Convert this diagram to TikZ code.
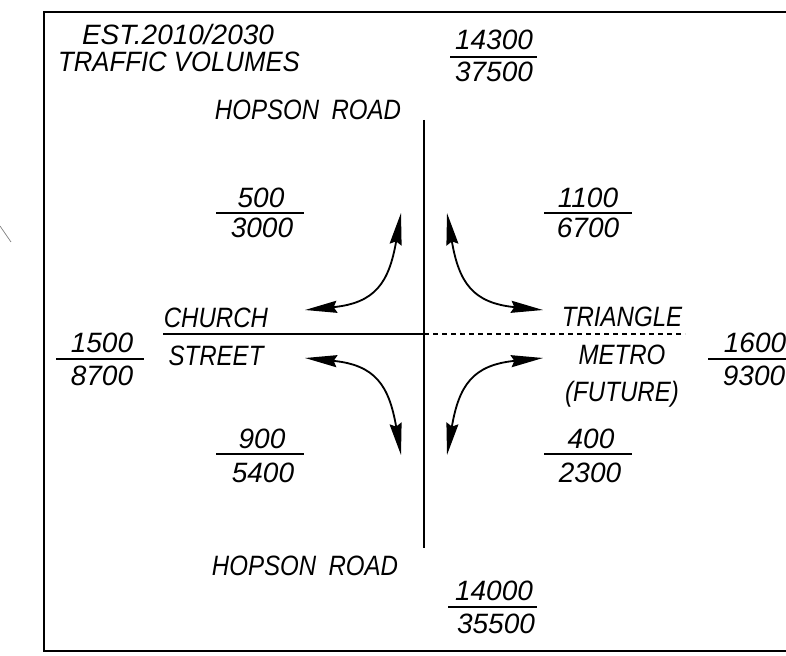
\documentclass[tikz,border=0pt]{standalone}
\usepackage{fontspec}
\setmainfont{Liberation Sans}
\newfontfamily\wordfont{Liberation Sans}[FakeStretch=0.86]
\newfontfamily\titlefont{Liberation Sans}[FakeStretch=0.92]
\newfontfamily\numfont{Liberation Sans}
\usetikzlibrary{arrows.meta}
\begin{document}
\begin{tikzpicture}[x=0.025cm,y=-0.025cm,
  lbl/.style={inner sep=0pt, anchor=base, font=\wordfont\itshape\fontsize{19.9pt}{24pt}\selectfont},
  ttl/.style={inner sep=0pt, anchor=base, font=\titlefont\itshape\fontsize{19.9pt}{24pt}\selectfont},
  num/.style={inner sep=0pt, anchor=base, font=\numfont\itshape\fontsize{19.9pt}{24pt}\selectfont},
  fbar/.style={line width=0.9pt},
  road/.style={line width=1pt},
  flow/.style={line width=1.3pt, {Stealth[length=0.8cm,width=0.3cm,inset=0.08cm]}-{Stealth[length=0.8cm,width=0.3cm,inset=0.08cm]}},
  frame/.style={line width=1.3pt}]
\useasboundingbox (0,0) rectangle (786,655);

% frame (open at the right)
\coordinate (frTR) at (786,12);
\coordinate (frTL) at (44,12);
\coordinate (frBL) at (44,651);
\coordinate (frBR) at (786,651);
\draw[frame] (frTR) -- (frTL) -- (frBL) -- (frBR);

% stray mark at left
\coordinate (st1) at (0,226);
\coordinate (st2) at (11,242);
\draw[gray, line width=0.5pt] (st1) -- (st2);

% roads
\coordinate (vN) at (424,120);
\coordinate (vS) at (424,548);
\coordinate (hW) at (163,334);
\coordinate (hC) at (424,334);
\coordinate (hE) at (685,334);
\draw[road] (vN) -- (vS);
\draw[road] (hW) -- (hC);
\draw[road, dash pattern=on 3.6pt off 2.8pt] (hC) -- (hE);

% title
\node[num] (t1) at (178,45) {EST.2010/2030};
\node[ttl] (t2) at (179,72) {TRAFFIC VOLUMES};

% street names
\node[lbl] (hopN) at (308,120) {HOPSON\hspace{4pt} ROAD};
\node[lbl] (hopS) at (305,575) {HOPSON\hspace{4pt} ROAD};
\node[lbl] (church) at (216,327) {CHURCH};
\node[lbl] (street) at (216,365) {STREET};
\node[lbl] (tri) at (622,326) {TRIANGLE};
\node[lbl] (metro) at (622,364) {METRO};
\node[lbl] (future) at (622,401) {(FUTURE)};

% volumes
\node[num] (a1) at (494,50) {14300};
\node[num] (a2) at (494,82) {37500};
\coordinate (a1L) at (450,57); \coordinate (a1R) at (537,57);
\draw[fbar] (a1L) -- (a1R);

\node[num] (b1) at (261,208) {500};
\node[num] (b2) at (262,238) {3000};
\coordinate (b1L) at (216,213); \coordinate (b1R) at (304,213);
\draw[fbar] (b1L) -- (b1R);

\node[num] (c1) at (588,208) {1100};
\node[num] (c2) at (588,238) {6700};
\coordinate (c1L) at (544,213); \coordinate (c1R) at (632,213);
\draw[fbar] (c1L) -- (c1R);

\node[num] (d1) at (102,352) {1500};
\node[num] (d2) at (102,385) {8700};
\coordinate (d1L) at (56,359); \coordinate (d1R) at (144,359);
\draw[fbar] (d1L) -- (d1R);

\node[num] (e1) at (755,352) {1600};
\node[num] (e2) at (754,385) {9300};
\coordinate (e1L) at (708,359); \coordinate (e1R) at (786,359);
\draw[fbar] (e1L) -- (e1R);

\node[num] (f1) at (262,448) {900};
\node[num] (f2) at (263,482) {5400};
\coordinate (f1L) at (216,454); \coordinate (f1R) at (304,454);
\draw[fbar] (f1L) -- (f1R);

\node[num] (g1) at (591,448) {400};
\node[num] (g2) at (590,482) {2300};
\coordinate (g1L) at (544,454); \coordinate (g1R) at (632,454);
\draw[fbar] (g1L) -- (g1R);

\node[num] (h1) at (494,600) {14000};
\node[num] (h2) at (496,633) {35500};
\coordinate (h1L) at (448,607); \coordinate (h1R) at (537,607);
\draw[fbar] (h1L) -- (h1R);

% turning movement arrows
\coordinate (tlW) at (305,310); \coordinate (tlN) at (401,213);
\coordinate (trE) at (543,310); \coordinate (trN) at (447,213);
\coordinate (blW) at (305,358); \coordinate (blS) at (401,455);
\coordinate (brE) at (543,358); \coordinate (brS) at (447,455);
\draw[flow] (tlW) .. controls +(70,-7) and +(-12,70) .. (tlN);
\draw[flow] (trE) .. controls +(-70,-7) and +(12,70) .. (trN);
\draw[flow] (blW) .. controls +(70,7) and +(-12,-70) .. (blS);
\draw[flow] (brE) .. controls +(-70,7) and +(12,-70) .. (brS);
\end{tikzpicture}
\end{document}
